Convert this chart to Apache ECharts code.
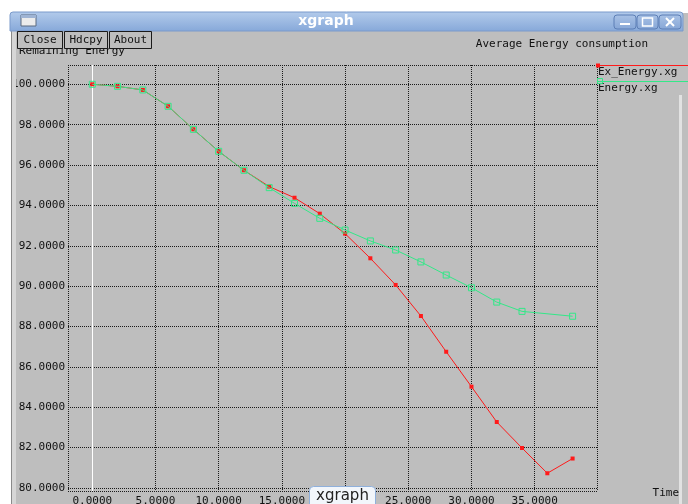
<!DOCTYPE html>
<html>
<head>
<meta charset="utf-8">
<script src="https://cdn.jsdelivr.net/npm/echarts@6/dist/echarts.min.js"></script>
<style>
html,body{margin:0;padding:0;background:#fff;}
#chart{width:688px;height:504px;}
</style>
</head>
<body>
<div id="chart"></div>
<script>
// ---- data ----
const exTime = [0, 2, 4, 6, 8, 10, 12, 14, 16, 18, 20, 22, 24, 26, 28, 30, 32, 34, 36, 38];
const exEnergy = [100.00, 99.90, 99.72, 98.91, 97.77, 96.68, 95.74, 94.93, 94.38, 93.59, 92.60, 91.38, 90.06, 88.52, 86.75, 85.02, 83.27, 81.98, 80.73, 81.46];
const enTime = [0, 2, 4, 6, 8, 10, 12, 14, 16, 18, 20, 22, 24, 26, 28, 30, 32, 34, 38];
const energy = [100.00, 99.90, 99.72, 98.91, 97.77, 96.68, 95.74, 94.88, 94.10, 93.36, 92.78, 92.24, 91.79, 91.20, 90.55, 89.92, 89.21, 88.75, 88.51];
const xTicks = [0, 5, 10, 15, 20, 25, 30, 35];
const yTicks = [80, 82, 84, 86, 88, 90, 92, 94, 96, 98, 100];
const seriesNames = ['Ex_Energy.xg', 'Energy.xg'];
const windowTitle = 'xgraph';
const plotTitle = 'Average Energy consumption';
const yName = 'Remaining Energy';
const xName = 'Time';
const buttons = ['Close', 'Hdcpy', 'About'];

const RED = '#ff1a1a';
const GREEN = '#33e888';
const MONO = '"DejaVu Sans Mono", "Liberation Mono", monospace';

const chart = echarts.init(document.getElementById('chart'), null, {renderer: 'canvas'});

function pair(xs, ys) { return xs.map((x, i) => [x, ys[i]]); }

const btnX = [17, 64, 109];
const btnW = [45, 43, 42];

const graphics = [];
// white outer margins
graphics.push({type: 'rect', shape: {x: 0, y: 0, width: 688, height: 13}, style: {fill: '#fff'}, z: 100});
graphics.push({type: 'rect', shape: {x: 0, y: 0, width: 11, height: 504}, style: {fill: '#fff'}, z: 100});
graphics.push({type: 'rect', shape: {x: 11, y: 30, width: 1, height: 474}, style: {fill: '#8a8a8a'}, z: 100});
graphics.push({type: 'rect', shape: {x: 12, y: 30, width: 4, height: 474}, style: {fill: '#d6d6d6'}, z: 100});
graphics.push({type: 'rect', shape: {x: 679, y: 95, width: 3, height: 409}, style: {fill: '#e2e2e2'}, z: 100});
// title bar
graphics.push({type: 'rect', shape: {x: 10, y: 12, width: 673, height: 19, r: [3, 3, 0, 0]},
  style: {fill: new echarts.graphic.LinearGradient(0, 0, 0, 1, [{offset: 0, color: '#b3cbeb'}, {offset: 1, color: '#86a8d9'}]), stroke: '#7a9acb', lineWidth: 1}, z: 101});
graphics.push({type: 'text', x: 326, y: 21, style: {text: windowTitle, fill: '#ffffff', font: 'bold 14px "DejaVu Sans", sans-serif', align: 'center', verticalAlign: 'middle'}, z: 102});
// window icon
graphics.push({type: 'rect', shape: {x: 21, y: 15, width: 15, height: 11}, style: {fill: '#ececec', stroke: '#5a6a80', lineWidth: 1}, z: 102});
graphics.push({type: 'rect', shape: {x: 21, y: 15, width: 15, height: 3}, style: {fill: '#9fb4d4'}, z: 103});
// title buttons
[[614, 22], [637, 21], [659, 22]].forEach(function (b, i) {
  graphics.push({type: 'rect', shape: {x: b[0], y: 15, width: b[1], height: 14, r: 3},
    style: {fill: new echarts.graphic.LinearGradient(0, 0, 0, 1, [{offset: 0, color: '#a9c2e6'}, {offset: 1, color: '#86a6d6'}]), stroke: '#5d7fb6', lineWidth: 1}, z: 102});
  const cx = b[0] + b[1] / 2;
  if (i === 0) graphics.push({type: 'rect', shape: {x: cx - 5, y: 23, width: 10, height: 2}, style: {fill: '#fff'}, z: 103});
  if (i === 1) graphics.push({type: 'rect', shape: {x: cx - 5, y: 18, width: 10, height: 8}, style: {fill: 'none', stroke: '#fff', lineWidth: 1.5}, z: 103});
  if (i === 2) {
    graphics.push({type: 'line', shape: {x1: cx - 4, y1: 18, x2: cx + 4, y2: 26}, style: {stroke: '#fff', lineWidth: 2}, z: 103});
    graphics.push({type: 'line', shape: {x1: cx + 4, y1: 18, x2: cx - 4, y2: 26}, style: {stroke: '#fff', lineWidth: 2}, z: 103});
  }
});
// y name (partly hidden by buttons)
graphics.push({type: 'text', x: 19, y: 51, style: {text: yName, fill: '#111', font: '11px ' + MONO, verticalAlign: 'middle'}, z: 104});
// buttons
buttons.forEach(function (t, i) {
  graphics.push({type: 'rect', shape: {x: btnX[i] + 0.5, y: 31.5, width: btnW[i], height: 17}, style: {fill: '#bebebe', stroke: '#1a1a1a', lineWidth: 1}, z: 105});
  graphics.push({type: 'text', x: btnX[i] + btnW[i] / 2 + 0.5, y: 40.5, style: {text: t, fill: '#111', font: '11px ' + MONO, align: 'center', verticalAlign: 'middle'}, z: 106});
});
// plot title
graphics.push({type: 'text', x: 648, y: 44, style: {text: plotTitle, fill: '#111', font: '11px ' + MONO, align: 'right', verticalAlign: 'middle'}, z: 104});
// x name
graphics.push({type: 'text', x: 679, y: 493, style: {text: xName, fill: '#111', font: '11px ' + MONO, align: 'right', verticalAlign: 'middle'}, z: 104});
// legend
graphics.push({type: 'line', shape: {x1: 597, y1: 65.5, x2: 688, y2: 65.5}, style: {stroke: RED, lineWidth: 1}, z: 104});
graphics.push({type: 'rect', shape: {x: 596, y: 63.5, width: 4, height: 4}, style: {fill: RED}, z: 105});
graphics.push({type: 'text', x: 598, y: 72, style: {text: seriesNames[0], fill: '#111', font: '11px ' + MONO, verticalAlign: 'middle'}, z: 104});
graphics.push({type: 'line', shape: {x1: 597, y1: 81.5, x2: 688, y2: 81.5}, style: {stroke: GREEN, lineWidth: 1}, z: 104});
graphics.push({type: 'rect', shape: {x: 597.5, y: 78.5, width: 5, height: 5}, style: {fill: 'none', stroke: GREEN, lineWidth: 1}, z: 105});
graphics.push({type: 'text', x: 598, y: 88, style: {text: seriesNames[1], fill: '#111', font: '11px ' + MONO, verticalAlign: 'middle'}, z: 104});
// bottom taskbar tab
graphics.push({type: 'rect', shape: {x: 309.5, y: 486.5, width: 66, height: 24, r: 4}, style: {fill: '#f2f6fb', stroke: '#8fb0dc', lineWidth: 1}, z: 110});
graphics.push({type: 'text', x: 342.5, y: 496, style: {text: windowTitle, fill: '#222', font: '15px "DejaVu Sans", sans-serif', align: 'center', verticalAlign: 'middle'}, z: 111});

const option = {
  animation: false,
  backgroundColor: '#bebebe',
  grid: {left: 68, top: 65, width: 529, height: 426, show: false, containLabel: false, outerBoundsMode: 'none'},
  xAxis: {
    type: 'value', min: -1.92, max: 39.93, minInterval: 5, maxInterval: 5,
    axisLine: {show: false}, axisTick: {show: false},
    axisLabel: {customValues: xTicks, margin: 5, color: '#111', fontFamily: MONO, fontSize: 11,
      formatter: function (v) { return Number(v).toFixed(4); }},
    splitLine: {show: true, lineStyle: {color: '#1a1a1a', width: 1, type: [1, 1]}}
  },
  yAxis: {
    type: 'value', min: 79.851, max: 100.956, minInterval: 2, maxInterval: 2,
    axisLine: {show: false}, axisTick: {show: false},
    axisLabel: {customValues: yTicks, margin: 3, color: '#111', fontFamily: MONO, fontSize: 11,
      formatter: function (v) { return Number(v).toFixed(4); }},
    splitLine: {show: true, lineStyle: {color: '#1a1a1a', width: 1, type: [1, 1]}}
  },
  series: [
    {
      name: seriesNames[0], type: 'line', data: pair(exTime, exEnergy),
      symbol: 'rect', symbolSize: 4, showAllSymbol: true,
      lineStyle: {color: RED, width: 1}, itemStyle: {color: RED},
      emphasis: {disabled: true}, silent: true, z: 3,
      markLine: {silent: true, symbol: ['none', 'none'], z: 1, label: {show: false},
        lineStyle: {color: '#ffffff', type: 'solid', width: 1},
        data: [{xAxis: 0}]}
    },
    {
      name: seriesNames[1], type: 'line', data: pair(enTime, energy),
      symbol: 'rect', symbolSize: 6, showAllSymbol: true,
      lineStyle: {color: GREEN, width: 1},
      itemStyle: {color: 'rgba(0,0,0,0)', borderColor: GREEN, borderWidth: 1},
      emphasis: {disabled: true}, silent: true, z: 4
    }
  ],
  graphic: {elements: graphics}
};
chart.setOption(option);
</script>
</body>
</html>
